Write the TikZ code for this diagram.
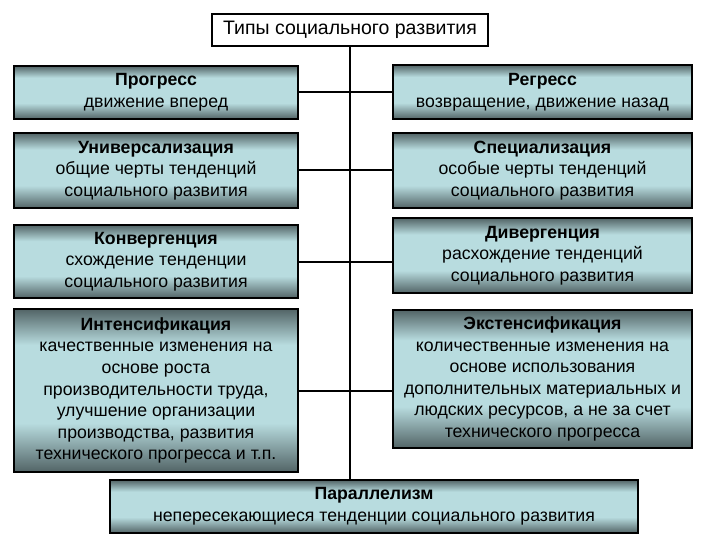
\documentclass[tikz,border=0pt]{standalone}
\usepackage{fontspec}
\setmainfont{Liberation Sans}
\usepackage{tikz}
\usetikzlibrary{positioning}
\definecolor{typdark}{HTML}{526466}
\definecolor{typlight}{HTML}{B8DCDF}
\pgfdeclareverticalshading{typshade}{100bp}{color(0bp)=(typdark);
  color(25bp)=(typdark); color(40bp)=(typlight); color(64bp)=(typlight);
  color(75bp)=(typdark); color(100bp)=(typdark)}

\begin{document}
\begin{tikzpicture}[
  x=1pt,y=-1pt,
  font=\fontsize{17.7}{21.6}\selectfont,
  headbox/.style={draw=black,line width=1.6pt,fill=white,align=center,
    inner sep=0pt,minimum width=276pt,minimum height=32pt},
  box/.style={draw=black,line width=1.8pt,shading=typshade,align=center,
    inner sep=0pt},
  link/.style={draw=black,line width=2pt}
]
  \useasboundingbox (0,0) rectangle (720,540);

  % Title
  \node[headbox,font=\fontsize{19.5}{22}\selectfont] (types) at (350,30)
    {Типы социального развития};

  % Left column
  \node[box,minimum width=284pt,minimum height=53pt] (progress) at (156,92.5)
    {\textbf{Прогресс}\\движение вперед};
  \node[box,minimum width=284pt,minimum height=75pt] (univ) at (156,170.5)
    {\textbf{Универсализация}\\общие черты тенденций\\социального развития};
  \node[box,minimum width=284pt,minimum height=73pt] (conv) at (156,261.5)
    {\textbf{Конвергенция}\\схождение тенденции\\социального развития};
  \node[box,minimum width=284pt,minimum height=163pt] (intens) at (156,390.5)
    {\textbf{Интенсификация}\\качественные изменения на\\основе роста\\
     производительности труда,\\улучшение организации\\
     производства, развития\\технического прогресса и т.п.};

  % Right column
  \node[box,minimum width=299pt,minimum height=54pt] (regress) at (542.5,92)
    {\textbf{Регресс}\\возвращение, движение назад};
  \node[box,minimum width=299pt,minimum height=75pt] (spec) at (542.5,170.5)
    {\textbf{Специализация}\\особые черты тенденций\\социального развития};
  \node[box,minimum width=299pt,minimum height=75pt] (diverg) at (542.5,255.5)
    {\textbf{Дивергенция}\\расхождение тенденций\\социального развития};
  \node[box,minimum width=299pt,minimum height=138pt] (extens) at (542.5,379)
    {\textbf{Экстенсификация}\\количественные изменения на\\основе использования\\
     дополнительных материальных и\\людских ресурсов, а не за счет\\
     технического прогресса};

  % Bottom
  \node[box,minimum width=528pt,minimum height=53pt] (parall) at (374,506.5)
    {\textbf{Параллелизм}\\непересекающиеся тенденции социального развития};

  \draw[link] (types.south) -- (types.south |- parall.north);
  \draw[link] (progress.east) -- (progress.east -| regress.west);
  \draw[link] (univ.east) -- (univ.east -| spec.west);
  \draw[link] (conv.east) -- (conv.east -| diverg.west);
  \draw[link] (intens.east) -- (intens.east -| extens.west);
\end{tikzpicture}
\end{document}
